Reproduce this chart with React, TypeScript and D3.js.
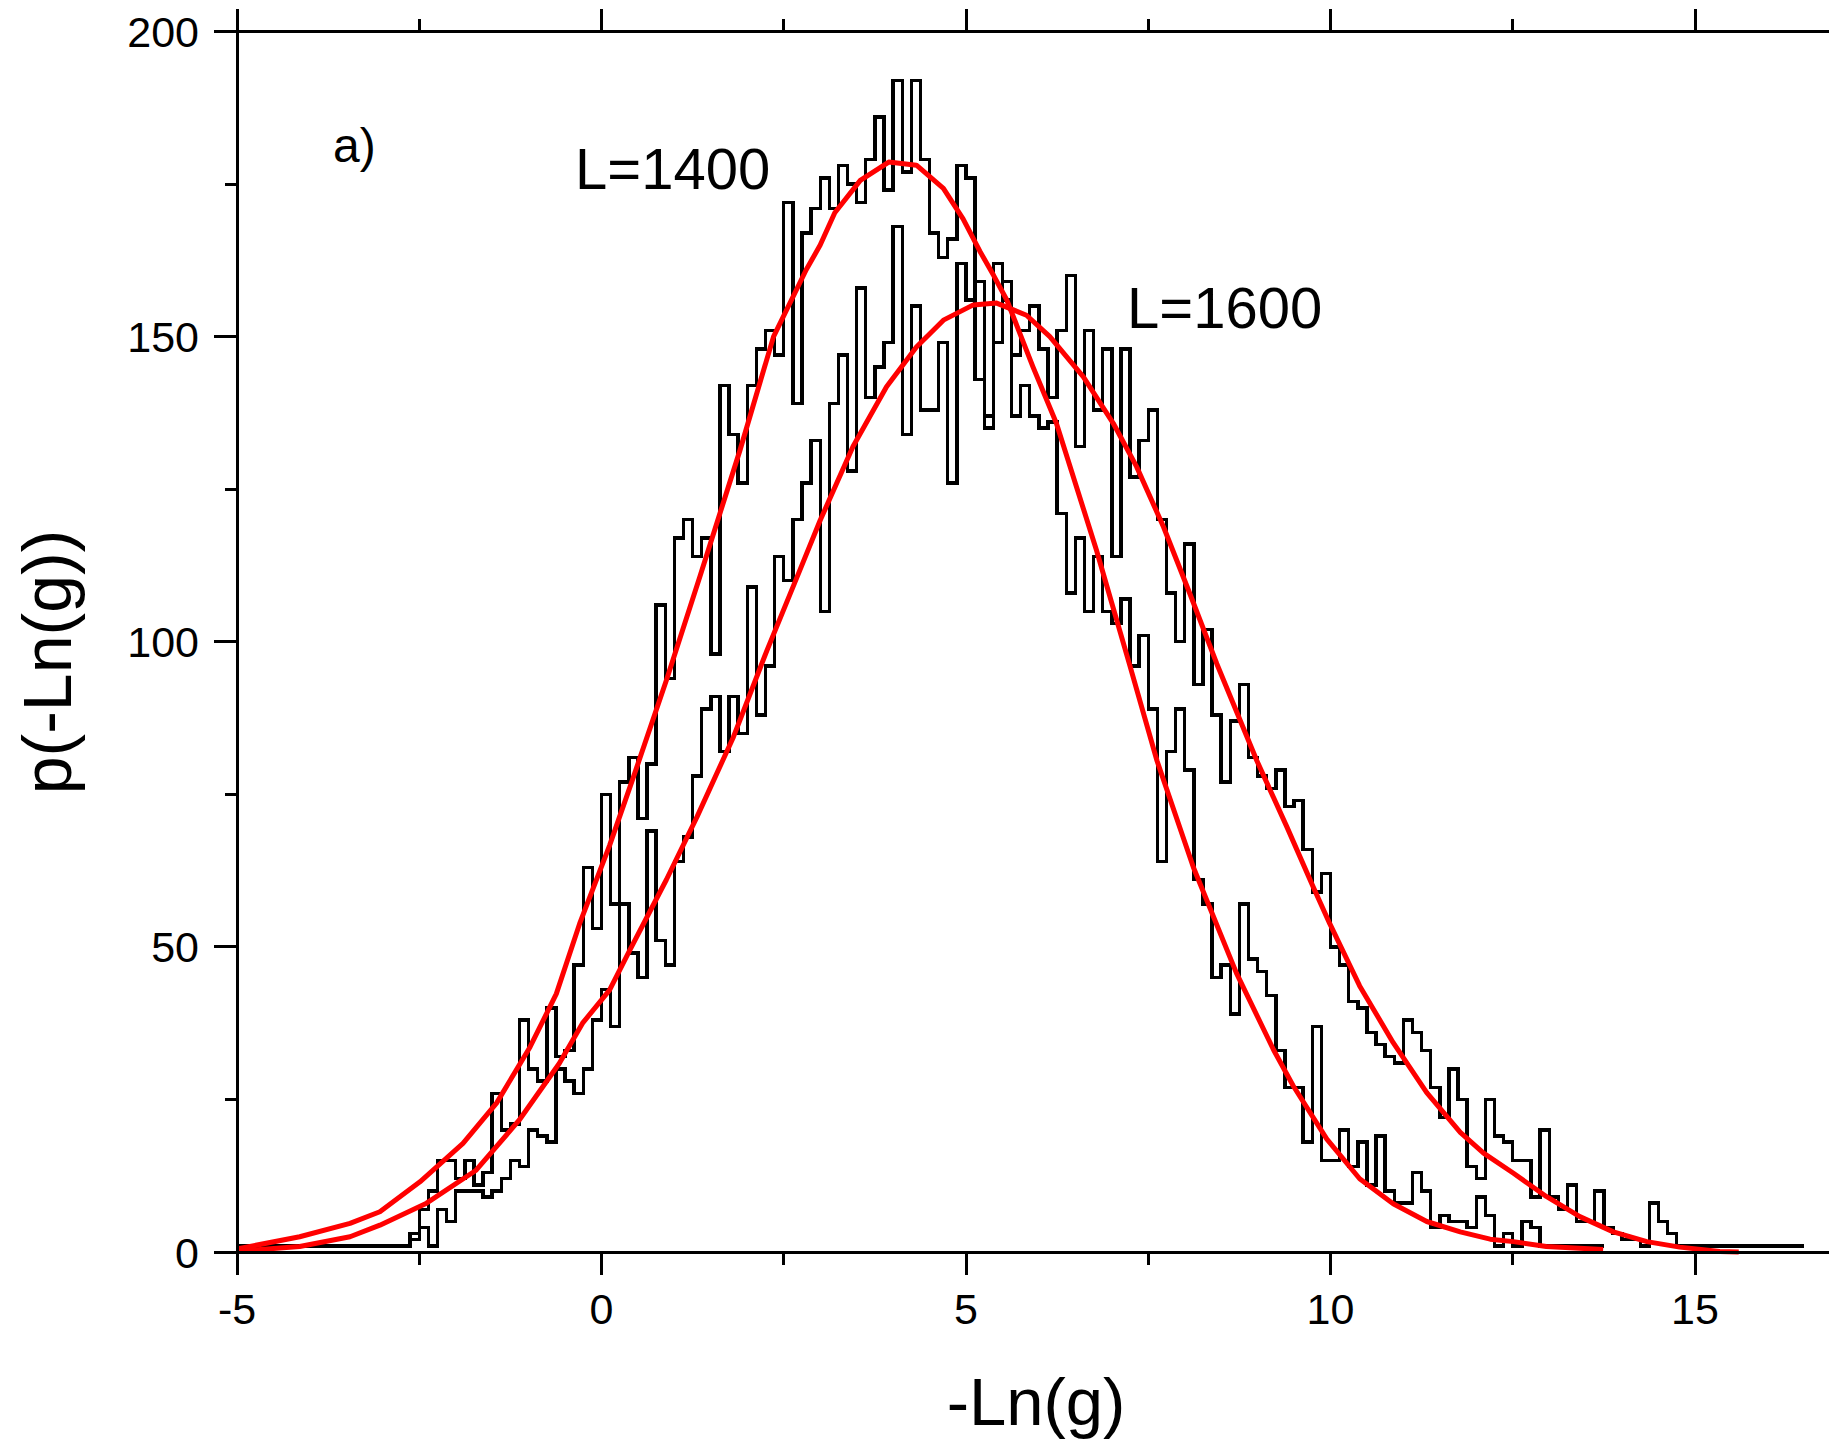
import React from 'react';
import * as d3 from 'd3';

// Histogram bins: width 0.125, first bin starts at -Ln(g) = -5
const BIN_WIDTH = 0.125;
const BIN_START = -5;

const histL1400: number[] = [
  1, 1, 1, 1, 1, 1, 1, 1, 1, 1, 1, 1, 1, 1, 1, 1, 1, 1, 1,
  3, 7, 10, 15, 15, 12, 15, 11, 13, 26,
  20, 21, 38, 30, 28, 40, 32, 33, 47, 63,
  53, 75, 57, 77, 81, 71, 80, 106, 94, 117,
  120, 114, 117, 98, 142, 134, 126, 142, 148, 151,
  147, 172, 139, 167, 171, 176, 171, 178, 175, 172,
  179, 186, 174, 192, 177, 192, 179, 167, 163, 166,
  178, 176, 143, 137, 162, 156, 137, 142, 137, 135,
  136, 121, 108, 117, 105, 114, 105, 103, 107, 96,
  101, 89, 64, 82, 89, 79, 61, 57, 45, 47,
  39, 57, 48, 46, 42, 33, 27, 27, 18, 37,
  15, 15, 20, 14, 18, 11, 19, 10, 8, 8,
  13, 10, 4, 6, 5, 5, 4, 9, 6, 1,
  3, 1, 5, 4, 1, 1, 1, 1, 1, 1, 1,
];

const histL1600: number[] = [
  1, 1, 1, 1, 1, 1, 1, 1, 1, 1, 1, 1, 1, 1, 1, 1, 1, 1, 1,
  2, 4, 1, 7, 5, 10, 10, 10, 9, 10,
  12, 15, 14, 20, 19, 18, 30, 28, 26, 30,
  38, 43, 37, 57, 49, 45, 69, 51, 47, 64,
  68, 78, 89, 91, 82, 91, 85, 109, 88, 96,
  114, 110, 120, 126, 133, 105, 139, 147, 128, 158,
  140, 145, 149, 168, 134, 155, 138, 138, 149, 126,
  162, 156, 159, 135, 149, 159, 147, 151, 155, 148,
  140, 151, 160, 132, 151, 138, 148, 114, 148, 127,
  133, 138, 120, 108, 100, 116, 93, 102, 88, 77,
  87, 93, 81, 78, 76, 79, 73, 74, 66, 59,
  62, 50, 47, 41, 40, 36, 34, 32, 31, 38,
  36, 33, 27, 22, 30, 25, 14, 12, 25, 19,
  18, 15, 15, 9, 20, 9, 7, 11, 5, 5,
  10, 4, 3, 2, 2, 1, 8, 5, 3, 1,
  1, 1, 1, 1, 1, 1, 1, 1, 1, 1, 1, 1, 1,
];

// Fitted curves
const fitL1400X = [-5, -4.14, -3.45, -3.04, -2.49, -1.9, -1.44, -0.98, -0.62, -0.3, 0.11, 0.44, 0.89, 1.35, 1.9, 2.36, 2.81, 3.0, 3.2, 3.55, 3.94, 4.32, 4.69, 4.96, 5.19, 5.38, 5.56, 5.74, 5.92, 6.24, 6.79, 7.25, 7.62, 8.12, 8.71, 9.22, 9.49, 9.95, 10.4, 10.86, 11.32, 11.78, 12.19, 12.51, 12.96, 13.74];
const fitL1400Y = [0.5, 2.5, 4.7, 6.6, 11.5, 17.8, 24.4, 33.6, 42.3, 53.8, 66.6, 77.9, 93.7, 110.7, 131.4, 150, 161, 165, 170.3, 175.6, 178.6, 178.1, 174.3, 169.3, 164, 160, 156, 150.5, 145, 135.8, 115, 96, 80.5, 63, 45.7, 33.1, 27.2, 18.5, 12, 7.9, 5, 3.3, 2.1, 1.7, 0.9, 0.4];

const fitL1600X = [-5, -4.14, -3.45, -3.04, -2.4, -1.72, -1.13, -0.58, -0.26, 0.11, 0.39, 0.89, 1.31, 1.81, 2.27, 2.72, 3.0, 3.45, 3.91, 4.32, 4.69, 5.1, 5.42, 5.83, 6.15, 6.61, 7.02, 7.34, 7.71, 8.07, 8.44, 8.8, 8.99, 9.4, 9.76, 9.99, 10.4, 10.86, 11.32, 11.78, 12.1, 12.51, 12.96, 13.42, 13.88, 14.34, 14.79, 15.34, 15.6];
const fitL1600Y = [0.1, 0.9, 2.5, 4.4, 8.0, 13.4, 21.6, 30.9, 37.5, 42.9, 49.5, 61, 71.3, 84.4, 98.6, 111.7, 119.9, 132, 141.8, 148.3, 152.7, 155.2, 155.5, 153.5, 150, 143.4, 135.8, 128.7, 118.8, 107.9, 96.4, 86, 80.5, 69.7, 59.9, 53.8, 43.6, 34.3, 26.1, 19.6, 16.2, 12.9, 9.1, 5.8, 3.3, 1.7, 0.8, 0.1, 0];

const xMajorTicks = [-5, 0, 5, 10, 15];
const xMinorTicks = [-2.5, 2.5, 7.5, 12.5];
const yMajorTicks = [0, 50, 100, 150, 200];
const yMinorTicks = [25, 75, 125, 175];

const FONT = "'Liberation Sans', Arial, Helvetica, sans-serif";

export default function App() {
  const W = 1829;
  const H = 1440;
  const x = d3.scaleLinear().domain([-5, 17]).range([237, 237 + 22 * 72.9]);
  const y = d3.scaleLinear().domain([0, 200]).range([1252, 31.5]);

  const stepLine = d3
    .line<[number, number]>()
    .x((d) => x(d[0]))
    .y((d) => y(d[1]))
    .curve(d3.curveStepAfter);

  const histPts = (vals: number[]): [number, number][] => {
    const pts: [number, number][] = vals.map((v, i) => [BIN_START + i * BIN_WIDTH, v]);
    pts.push([BIN_START + vals.length * BIN_WIDTH, vals[vals.length - 1]]);
    return pts;
  };

  const fitLine = d3
    .line<[number, number]>()
    .x((d) => x(d[0]))
    .y((d) => y(d[1]));

  const fit1 = fitL1400X.map((v, i) => [v, fitL1400Y[i]] as [number, number]);
  const fit2 = fitL1600X.map((v, i) => [v, fitL1600Y[i]] as [number, number]);

  const x0 = x(-5);
  const x1 = x(17);
  const yb = y(0);
  const yt = y(200);
  const AW = 3;

  return (
    <svg
      width={W}
      height={H}
      style={{ position: 'absolute', left: 0, top: 0, background: '#fff' }}
      xmlns="http://www.w3.org/2000/svg"
    >
      <rect x={0} y={0} width={W} height={H} fill="#fff" />

      {/* histograms */}
      <path d={stepLine(histPts(histL1400)) || ''} fill="none" stroke="#000" strokeWidth={3.4} strokeLinejoin="miter" shapeRendering="crispEdges" />
      <path d={stepLine(histPts(histL1600)) || ''} fill="none" stroke="#000" strokeWidth={3.4} strokeLinejoin="miter" shapeRendering="crispEdges" />

      {/* fitted curves */}
      <path d={fitLine(fit1) || ''} fill="none" stroke="#ff0000" strokeWidth={5} strokeLinejoin="round" />
      <path d={fitLine(fit2) || ''} fill="none" stroke="#ff0000" strokeWidth={5} strokeLinejoin="round" />

      {/* axes lines */}
      <g shapeRendering="crispEdges">
        <line x1={x0 - 23} x2={x1} y1={yb} y2={yb} stroke="#000" strokeWidth={AW} />
        <line x1={x0 - 23} x2={x1} y1={yt} y2={yt} stroke="#000" strokeWidth={AW} />
        <line x1={x0} x2={x0} y1={yb + 23} y2={yt - 23} stroke="#000" strokeWidth={AW} />

        {/* x ticks bottom & top */}
        {xMajorTicks.map((t) => (
          <g key={'xM' + t}>
            <line x1={x(t)} x2={x(t)} y1={yb} y2={yb + 23} stroke="#000" strokeWidth={AW} />
            <line x1={x(t)} x2={x(t)} y1={yt} y2={yt - 23} stroke="#000" strokeWidth={AW} />
          </g>
        ))}
        {xMinorTicks.map((t) => (
          <g key={'xm' + t}>
            <line x1={x(t)} x2={x(t)} y1={yb} y2={yb + 13} stroke="#000" strokeWidth={AW} />
            <line x1={x(t)} x2={x(t)} y1={yt} y2={yt - 13} stroke="#000" strokeWidth={AW} />
          </g>
        ))}

        {/* y ticks */}
        {yMajorTicks.map((t) => (
          <line key={'yM' + t} x1={x0 - 23} x2={x0} y1={y(t)} y2={y(t)} stroke="#000" strokeWidth={AW} />
        ))}
        {yMinorTicks.map((t) => (
          <line key={'ym' + t} x1={x0 - 12} x2={x0} y1={y(t)} y2={y(t)} stroke="#000" strokeWidth={AW} />
        ))}
      </g>

      {xMajorTicks.map((t) => (
        <text key={'xl' + t} x={x(t)} y={1324} textAnchor="middle" fontFamily={FONT} fontSize={43} fill="#000">
          {t}
        </text>
      ))}
      {yMajorTicks.map((t) => (
        <text key={'yl' + t} x={199} y={y(t) + 15.5} textAnchor="end" fontFamily={FONT} fontSize={43} fill="#000">
          {t}
        </text>
      ))}

      {/* axis titles */}
      <text x={1036} y={1425} textAnchor="middle" fontFamily={FONT} fontSize={67} fill="#000">
        -Ln(g)
      </text>
      <text
        transform={`translate(71, 662) rotate(-90)`}
        textAnchor="middle"
        fontFamily={FONT}
        fontSize={68}
        fill="#000"
      >
        p(-Ln(g))
      </text>

      {/* annotations */}
      <text x={333} y={162} fontFamily={FONT} fontSize={48} fill="#000">
        a)
      </text>
      <text x={575} y={189} fontFamily={FONT} fontSize={58} fill="#000">
        L=1400
      </text>
      <text x={1127} y={328} fontFamily={FONT} fontSize={58} fill="#000">
        L=1600
      </text>
    </svg>
  );
}
